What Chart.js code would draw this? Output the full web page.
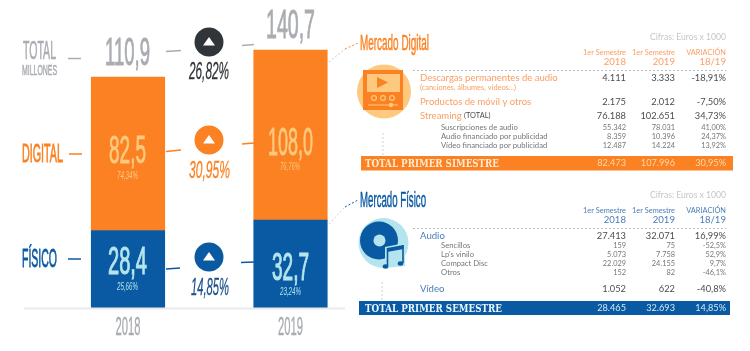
<!DOCTYPE html>
<html lang="es"><head><meta charset="utf-8">
<style>html,body{margin:0;padding:0;background:#fff}#wrap{position:relative;width:750px;height:351px}canvas{display:block}</style>
<script src="https://cdn.jsdelivr.net/npm/chart.js@4"></script>
</head><body><div id="wrap"><canvas id="c" width="750" height="351"></canvas></div>
<script>
// ---------- DATA ----------
const years = ['2018', '2019'];
const fisico = [28.4, 32.7];
const digital = [82.5, 108.0];
const totals = ['110,9', '140,7'];
const digitalLabels = ['82,5', '108,0'];
const fisicoLabels = ['28,4', '32,7'];
const digitalShare = ['74,34%', '76,76%'];
const fisicoShare = ['25,66%', '23,24%'];
const changeTotal = '26,82%';
const changeDigital = '30,95%';
const changeFisico = '14,85%';
const colHeads = ['1er Semestre', '1er Semestre', 'VARIACIÓN'];
const colYears = ['2018', '2019', '18/19'];
const digitalMain = [
  ['Descargas permanentes de audio', '4.111', '3.333', '-18,91%'],
  ['Productos de móvil y otros', '2.175', '2.012', '-7,50%'],
  ['Streaming', '76.188', '102.651', '34,73%']
];
const digitalSub = [
  ['Suscripciones de audio', '55.342', '78.031', '41,00%'],
  ['Audio financiado por publicidad', '8.359', '10.396', '24,37%'],
  ['Vídeo financiado por publicidad', '12.487', '14.224', '13,92%']
];
const digitalTotal = ['TOTAL PRIMER SIMESTRE', '82.473', '107.996', '30,95%'];
const fisicoMain = [
  ['Audio', '27.413', '32.071', '16,99%'],
  ['Vídeo', '1.052', '622', '-40,8%']
];
const fisicoSub = [
  ['Sencillos', '159', '75', '-52,5%'],
  ["Lp's vinilo", '5.073', '7.758', '52,9%'],
  ['Compact Disc', '22.029', '24.155', '9,7%'],
  ['Otros', '152', '82', '-46,1%']
];
const fisicoTotal = ['TOTAL PRIMER SEMESTRE', '28.465', '32.693', '14,85%'];

// ---------- Colours and fonts ----------
const ORANGE = '#fb8122', BLUE = '#0a5aa3', GREY = '#a9acb1', DARK = '#2f3538';
const PALE_O = '#fcc97f', PALE_B = '#b4e5ee', NAVY = '#1b4f8b';
const NARROW = '"Liberation Sans Narrow","Liberation Sans",sans-serif';
const BODY = 'Lato,"Open Sans",sans-serif';
const SLAB = '"DejaVu Serif",serif';
const TXT_MAIN = '#4a4d51', TXT_SUB = '#74777b', ORANGE_TXT = '#fb9e62', BLUE_TXT = '#4a7db8';

// The reference's bars are not drawn to one linear scale, so the value axis is piecewise:
// the knots say how high each cumulative figure stands on the original.
class PiecewiseScale extends Chart.LinearScale {
  getPixelForValue(v) {
    const k = this.options.knots;
    let i = 0;
    while (i < k.length - 2 && v > k[i + 1][0]) i++;
    const [v0, h0] = k[i], [v1, h1] = k[i + 1];
    return this.bottom - (h0 + (v - v0) / (v1 - v0) * (h1 - h0));
  }
}
PiecewiseScale.id = 'piecewise';
PiecewiseScale.defaults = Chart.LinearScale.defaults;
Chart.register(PiecewiseScale);

// Text squeezed to a target width: x0 and x1 bound the text, y is the baseline.
// A hairline stroke gives the medium weight of the original's condensed face.
function fit(ctx, s, x0, x1, y, size, color, family, style, stroke) {
  ctx.save();
  ctx.font = (style || '') + ' ' + size + 'px ' + family;
  ctx.fillStyle = color; ctx.strokeStyle = color; ctx.textBaseline = 'alphabetic'; ctx.textAlign = 'left';
  const w = ctx.measureText(s).width;
  ctx.translate(x0, y); ctx.scale((x1 - x0) / w, 1);
  ctx.fillText(s, 0, 0);
  if (stroke) { ctx.lineWidth = stroke; ctx.strokeText(s, 0, 0); }
  ctx.restore();
}
function txt(ctx, s, x, y, font, color, align) {
  ctx.font = font; ctx.fillStyle = color; ctx.textAlign = align || 'left';
  ctx.textBaseline = 'middle'; ctx.fillText(s, x, y);
}
function seg(ctx, x0, y0, x1, y1, color, w, dash) {
  ctx.save(); ctx.strokeStyle = color; ctx.lineWidth = w || 1.5; ctx.setLineDash(dash || []);
  ctx.beginPath(); ctx.moveTo(x0, y0); ctx.lineTo(x1, y1); ctx.stroke(); ctx.restore();
}
function badge(ctx, cx, cy, color) {
  ctx.fillStyle = color; ctx.beginPath(); ctx.arc(cx, cy, 14.5, 0, 7); ctx.fill();
  ctx.fillStyle = '#fff'; ctx.beginPath();
  ctx.moveTo(cx, cy - 5); ctx.lineTo(cx + 6, cy + 3.5); ctx.lineTo(cx - 6, cy + 3.5); ctx.closePath(); ctx.fill();
}
const COLS = [626, 675, 726];
function rowVals(ctx, r, y, font, color) {
  for (let i = 0; i < 3; i++) txt(ctx, r[i + 1], COLS[i], y, font, color, 'right');
}

function drawLeft(ctx, chart) {
  const xs = chart.scales.x, ys = chart.scales.y;
  const x18 = xs.getPixelForValue(0), x19 = xs.getPixelForValue(1);
  // baseline and years
  seg(ctx, 24, ys.bottom + .5, 345, ys.bottom + .5, '#e9e9ec', 2);
  fit(ctx, years[0], x18 - 12.5, x18 + 12.5, 335, 25, GREY, NARROW, '', .4);
  fit(ctx, years[1], x19 - 12.5, x19 + 12.5, 335, 25, GREY, NARROW, '', .4);
  // row labels
  fit(ctx, 'TOTAL', 23, 56, 59, 25, GREY, NARROW, '', .6);
  fit(ctx, 'MILLONES', 22, 57, 75, 14, GREY, NARROW, '', .5);
  fit(ctx, 'DIGITAL', 22, 63, 162, 25, ORANGE, NARROW, '', .8);
  fit(ctx, 'FÍSICO', 22, 57, 267, 25, BLUE, NARROW, '', .8);
  seg(ctx, 68, 58.5, 81, 58.5, GREY); seg(ctx, 69, 154, 82, 154, ORANGE); seg(ctx, 68, 259, 81, 259, BLUE);
  // totals
  fit(ctx, totals[0], 105, 150, 65, 39, GREY, NARROW, '', .9);
  fit(ctx, totals[1], 266, 315, 38, 41, GREY, NARROW, '', .9);
  // bar values
  fit(ctx, digitalLabels[0], 109, 146, 163, 39, PALE_O, NARROW, '', .9);
  fit(ctx, digitalLabels[1], 268, 313, 155, 39, PALE_O, NARROW, '', .9);
  fit(ctx, digitalShare[0], 117, 138, 179, 10, PALE_O, NARROW, 'italic');
  fit(ctx, digitalShare[1], 280, 300, 170, 10, PALE_O, NARROW, 'italic');
  fit(ctx, fisicoLabels[0], 108, 147, 274, 39, PALE_B, NARROW, '', 1.1);
  fit(ctx, fisicoLabels[1], 272, 309, 280, 39, PALE_B, NARROW, '', 1.1);
  fit(ctx, fisicoShare[0], 117, 138, 290, 11, PALE_B, NARROW, 'italic');
  fit(ctx, fisicoShare[1], 280, 301, 295, 11, PALE_B, NARROW, 'italic');
  // change badges
  badge(ctx, 209, 42, DARK); badge(ctx, 209, 140, ORANGE); badge(ctx, 209, 257, BLUE);
  fit(ctx, changeTotal, 189, 229, 79, 23, DARK, NARROW, 'italic', .3);
  fit(ctx, changeDigital, 189, 230, 178, 23, ORANGE, NARROW, 'italic', .3);
  fit(ctx, changeFisico, 191, 229, 295, 23, NAVY, NARROW, 'italic', .3);
  seg(ctx, 166, 51.5, 181, 50.5, GREY); seg(ctx, 242, 45.5, 254, 44.5, GREY);
  seg(ctx, 166, 151.5, 181, 150, ORANGE); seg(ctx, 242, 144, 254, 143, ORANGE);
  seg(ctx, 166, 269, 180, 268, BLUE); seg(ctx, 241, 262.5, 254, 262, BLUE);
  // leaders to the tables
  seg(ctx, 329, 62, 345, 49, '#c9c9c9', 1, [2, 2]); seg(ctx, 345, 49, 358, 43, ORANGE, 1, [2, 2]);
  seg(ctx, 329, 224, 345, 207, '#bfd3e6', 1, [2, 2]); seg(ctx, 345, 207, 358, 200, BLUE, 1, [2, 2]);
}

function drawHeads(ctx, title, titleX1, titleY, top, color, soft) {
  fit(ctx, title, 360, titleX1, titleY, 22, color, NARROW, '', .5);
  txt(ctx, 'Cifras: Euros x 1000', 726, top + 3, '8.6px ' + BODY, '#c4c6c9', 'right');
  for (let i = 0; i < 3; i++) {
    txt(ctx, colHeads[i], COLS[i], top + 19, '7.4px ' + BODY, soft, 'right');
    txt(ctx, colYears[i], COLS[i], top + 28, '9.6px ' + BODY, soft, 'right');
  }
  seg(ctx, 413, top + 36.5, 726, top + 36.5, '#b9bcc0', 1, [2, 2]);
}

function drawDigital(ctx) {
  drawHeads(ctx, 'Mercado Digital', 429, 50, 34, ORANGE, ORANGE_TXT);
  // icon
  ctx.fillStyle = PALE_O; ctx.beginPath(); ctx.arc(384, 91.5, 27, 0, 7); ctx.fill();
  ctx.fillStyle = ORANGE; ctx.fillRect(363, 70, 40, 40);
  ctx.fillStyle = PALE_O; ctx.fillRect(367, 74, 33, 18);
  ctx.fillStyle = ORANGE; ctx.beginPath(); ctx.moveTo(377, 77); ctx.lineTo(388, 82.5); ctx.lineTo(377, 88); ctx.closePath(); ctx.fill();
  ctx.strokeStyle = PALE_O; ctx.lineWidth = 1.2;
  [374, 383, 392].forEach(x => { ctx.beginPath(); ctx.arc(x, 98, 2.4, 0, 7); ctx.stroke(); });
  seg(ctx, 368, 105, 398, 105, PALE_O, 1);
  ctx.fillStyle = PALE_O; ctx.beginPath(); ctx.arc(391, 105, 2.2, 0, 7); ctx.fill();
  seg(ctx, 383, 133, 383, 155, '#cfd2d6', 1, [2, 2]);
  // rows
  const ys = [78, 102, 116];
  digitalMain.forEach((r, i) => {
    txt(ctx, r[0], 420, ys[i], '9.5px ' + BODY, ORANGE_TXT);
    rowVals(ctx, r, ys[i], '9.3px ' + BODY, TXT_MAIN);
  });
  txt(ctx, '(canciones, álbumes, vídeos...)', 420, 87.5, '7.4px ' + BODY, ORANGE_TXT);
  txt(ctx, '(TOTAL)', 464, 116, '7.4px ' + BODY, TXT_MAIN);
  [128, 137, 146].forEach((y, i) => {
    const r = digitalSub[i];
    txt(ctx, r[0], 441, y, '7.7px ' + BODY, TXT_SUB);
    rowVals(ctx, r, y, '7.4px ' + BODY, TXT_SUB);
  });
  ctx.fillStyle = ORANGE; ctx.fillRect(361, 156, 372, 14.5);
  fit(ctx, digitalTotal[0], 365, 499, 167, 10.5, '#fdebd4', SLAB, 'bold');
  rowVals(ctx, digitalTotal, 163.5, '9.2px ' + BODY, '#fcd9ad');
}

function drawFisico(ctx) {
  drawHeads(ctx, 'Mercado Físico', 426, 207, 192, BLUE, BLUE_TXT);
  // icon: pale disc, record and note sheet
  ctx.fillStyle = PALE_B; ctx.beginPath(); ctx.arc(383.5, 243, 25, 0, 7); ctx.fill();
  ctx.fillStyle = BLUE; ctx.beginPath(); ctx.arc(379, 240.5, 19, 0, 7); ctx.fill();
  ctx.fillStyle = PALE_B; ctx.beginPath(); ctx.arc(379.5, 240.5, 6, 0, 7); ctx.fill();
  ctx.fillStyle = PALE_B; ctx.beginPath();
  ctx.moveTo(385, 247); ctx.lineTo(405, 243); ctx.lineTo(405, 266); ctx.lineTo(385, 268); ctx.closePath(); ctx.fill();
  ctx.fillStyle = BLUE; ctx.beginPath();
  ctx.moveTo(387, 248); ctx.lineTo(403.5, 245); ctx.lineTo(403.5, 249); ctx.lineTo(387, 252); ctx.closePath(); ctx.fill();
  seg(ctx, 387.5, 248, 387.5, 266, BLUE, 1.6); seg(ctx, 403, 245, 403, 263, BLUE, 1.6);
  ctx.beginPath(); ctx.ellipse(385.5, 266.5, 2.8, 2.2, 0, 0, 7); ctx.ellipse(400.5, 263.5, 2.8, 2.2, 0, 0, 7); ctx.fill();
  seg(ctx, 382, 282, 382, 300, '#cfd2d6', 1, [2, 2]);
  // rows
  [236, 288.5].forEach((y, i) => {
    const r = fisicoMain[i];
    txt(ctx, r[0], 420, y, '9.6px ' + BODY, BLUE_TXT);
    rowVals(ctx, r, y, '9.3px ' + BODY, TXT_MAIN);
  });
  [246, 255, 264, 273].forEach((y, i) => {
    const r = fisicoSub[i];
    txt(ctx, r[0], 441, y, '7.7px ' + BODY, TXT_SUB);
    rowVals(ctx, r, y, '7.4px ' + BODY, TXT_SUB);
  });
  ctx.fillStyle = BLUE; ctx.fillRect(359, 301, 371, 14);
  fit(ctx, fisicoTotal[0], 365, 502, 311.5, 10.5, '#e9f6fb', SLAB, 'bold');
  rowVals(ctx, fisicoTotal, 308, '9.2px ' + BODY, '#cfeaf4');
}

const overlay = {
  id: 'overlay',
  afterDatasetsDraw(chart) {
    const ctx = chart.ctx;
    ctx.save();
    drawLeft(ctx, chart); drawDigital(ctx); drawFisico(ctx);
    ctx.restore();
  }
};

new Chart(document.getElementById('c'), {
  type: 'bar',
  data: {
    labels: years,
    datasets: [
      { label: 'Físico', data: fisico, backgroundColor: BLUE, barThickness: 73.5, borderWidth: 0 },
      { label: 'Digital', data: digital, backgroundColor: ORANGE, barThickness: 73.5, borderWidth: 0 }
    ]
  },
  options: {
    responsive: false, animation: false,
    layout: { padding: { left: 46.75, right: 378.25, top: 0, bottom: 43 } },
    plugins: { legend: { display: false }, tooltip: { enabled: false }, title: { display: false } },
    scales: {
      x: { stacked: true, display: false },
      y: {
        type: 'piecewise', stacked: true, display: false, min: 0, max: 160,
        knots: [[0, 0], [28.4, 77.5], [32.7, 88], [110.9, 231], [140.7, 258], [160, 308]]
      }
    }
  },
  plugins: [overlay]
});
</script></body></html>
